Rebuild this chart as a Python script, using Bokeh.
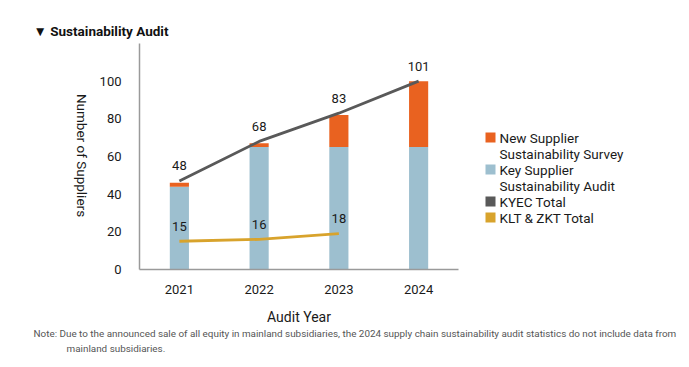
import math
from bokeh.plotting import figure
from bokeh.layouts import column, row
from bokeh.models import ColumnDataSource, FactorRange, Range1d, FixedTicker, Label
from bokeh.core.properties import value
from bokeh.embed import file_html
from bokeh.resources import INLINE

# ---- data ----
years = ["2021", "2022", "2023", "2024"]
key_audit = [44, 65, 65, 65]          # Key Supplier Sustainability Audit
new_survey = [2, 2, 17, 35]           # New Supplier Sustainability Survey
kyec_total = [47, 68, 83, 100]        # KYEC Total (line, as drawn)
kyec_labels = ["48", "68", "83", "101"]
klt_years = ["2021", "2022", "2023"]
klt_total = [15, 16, 19]              # KLT & ZKT Total (line, as drawn)
klt_labels = ["15", "16", "18"]
y_ticks = [0, 20, 40, 60, 80, 100]
legend_names = ["New Supplier\nSustainability Survey", "Key Supplier\nSustainability Audit",
                "KYEC Total", "KLT & ZKT Total"]

ORANGE = "#E96220"
BLUE = "#9DBFCF"
GRAY = "#595959"
GOLD = "#D8A32C"
FONT = "Roboto"
TXT = "#1a1a1a"

W = 681
TOP_H = 43
FRAME_H = 226
BOT_B = 37
MID_H = FRAME_H + BOT_B
BOTTOM_H = 359 - TOP_H - MID_H
LEFT_W = 90
MAIN_W = 470 - LEFT_W
LEG_W = W - LEFT_W - MAIN_W


def strip(width, height, bottom=0):
    """A blank figure; its frame's data coords are pixels from the frame's top-left."""
    f = figure(width=width, height=height, output_backend="svg", toolbar_location=None,
               x_range=Range1d(0, width), y_range=Range1d(height - bottom, 0),
               x_axis_type=None, y_axis_type=None, min_border=0,
               min_border_bottom=bottom)
    f.outline_line_color = None
    f.xgrid.visible = False
    f.ygrid.visible = False
    return f


# ---- main chart ----
p = figure(width=MAIN_W, height=MID_H, output_backend="svg", toolbar_location=None,
           x_range=FactorRange(*years, range_padding=0),
           y_range=Range1d(0, 120),
           min_border_left=139 - LEFT_W, min_border_right=12, min_border_top=0,
           min_border_bottom=BOT_B)
p.outline_line_color = None
p.xgrid.visible = False
p.ygrid.visible = False

src = ColumnDataSource(dict(year=years, key=key_audit, new=new_survey,
                            kyec=kyec_total, kyec_lab=kyec_labels))
bars = p.vbar_stack(["key", "new"], x="year", width=0.24, source=src,
                    color=[BLUE, ORANGE], line_color=None)
p.line(x="year", y="kyec", source=src, line_color=GRAY, line_width=2.8)
ksrc = ColumnDataSource(dict(year=klt_years, klt=klt_total, lab=klt_labels))
p.line(x="year", y="klt", source=ksrc, line_color=GOLD, line_width=2.8)

p.text(x="year", y="kyec", text="kyec_lab", source=src, y_offset=-15,
       text_align="center", text_baseline="middle", text_font=value(FONT),
       text_font_size="13px", text_color=TXT)
p.text(x="year", y="klt", text="lab", source=ksrc, y_offset=-15,
       text_align="center", text_baseline="middle", text_font=value(FONT),
       text_font_size="13px", text_color=TXT)

for ax in (p.xaxis, p.yaxis):
    ax.axis_line_color = "#9a9a9a"
    ax.axis_line_width = 1.5
    ax.major_tick_line_color = None
    ax.minor_tick_line_color = None
    ax.major_label_text_font = FONT
    ax.major_label_text_font_size = "13px"
    ax.major_label_text_color = TXT
p.yaxis.ticker = FixedTicker(ticks=y_ticks)
p.yaxis.bounds = (0, 120)
p.yaxis.major_label_standoff = 12
p.xaxis.major_label_standoff = 9

# ---- title strip ----
top = strip(W, TOP_H)
top.add_layout(Label(x=33, y=30, text="\u25BC Sustainability Audit", text_align="left",
                     text_baseline="middle", text_font=FONT, text_font_style="bold",
                     text_font_size="13.5px", text_color="#111111"))

# ---- y-axis title strip (reads top to bottom) ----
left = strip(LEFT_W, MID_H, BOT_B)
left.add_layout(Label(x=81, y=155 - TOP_H, text="Number of Suppliers", angle=-math.pi / 2,
                      text_align="center", text_baseline="middle", text_font=FONT,
                      text_font_size="13.5px", text_color=TXT))

# ---- legend strip ----
lx = 470
row_y = [137 - TOP_H, 169 - TOP_H, 201 - TOP_H, 217 - TOP_H]
leg = strip(LEG_W, MID_H, BOT_B)
leg.rect(x=[490 - lx] * 4, y=row_y, width=10, height=10,
         color=[ORANGE, BLUE, GRAY, GOLD], line_color=None)
for name, yy in zip(legend_names, row_y):
    for k, line in enumerate(name.split("\n")):
        leg.add_layout(Label(x=499 - lx, y=yy + 16 * k, text=line, text_align="left",
                             text_baseline="middle", text_font=FONT,
                             text_font_size="13.5px", text_color=TXT))

# ---- bottom strip: x-axis title and note ----
by = TOP_H + MID_H
bottom = strip(W, BOTTOM_H)
bottom.add_layout(Label(x=(139 + 458) / 2, y=316 - by, text="Audit Year", text_align="center",
                        text_baseline="middle", text_font=FONT, text_font_size="14px",
                        text_color=TXT))
bottom.add_layout(Label(x=33, y=333 - by, text="Note: Due to the announced sale of all equity in mainland subsidiaries, the 2024 supply chain sustainability audit statistics do not include data from",
                        text_align="left", text_baseline="middle", text_font=FONT,
                        text_font_size="9.9px", text_color="#555555"))
bottom.add_layout(Label(x=66, y=348 - by, text="mainland subsidiaries.",
                        text_align="left", text_baseline="middle", text_font=FONT,
                        text_font_size="9.9px", text_color="#555555"))

layout = column(top, row(left, p, leg, spacing=0), bottom, spacing=0)
open("out.html", "w").write(file_html(layout, INLINE))
